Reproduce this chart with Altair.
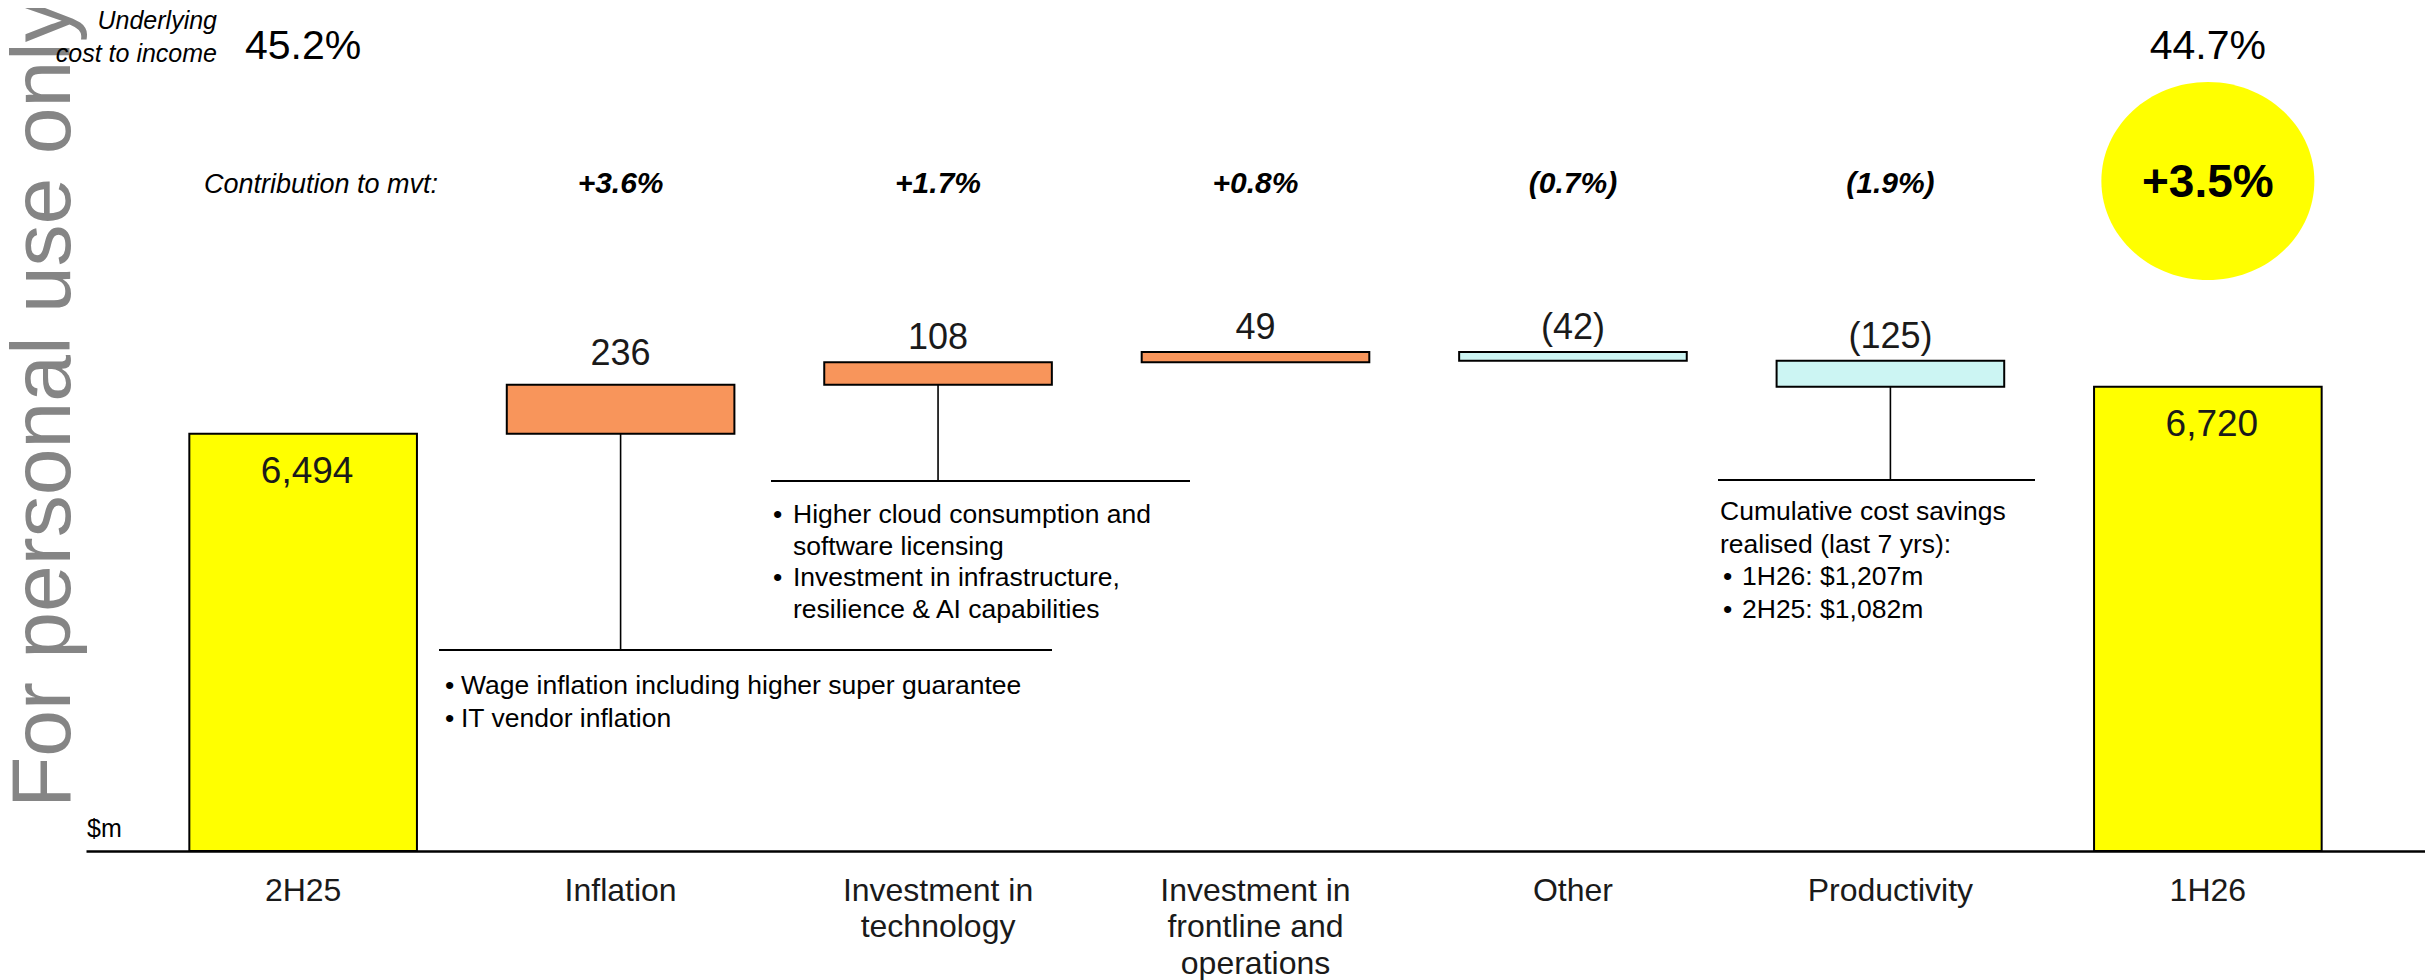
import altair as alt
import pandas as pd

# ---------------- data ----------------
categories = ["2H25", "Inflation", "Investment in|technology",
              "Investment in|frontline and|operations", "Other", "Productivity", "1H26"]
values = [6494, 236, 108, 49, -42, -125, 6720]
kinds = ["total", "up", "up", "up", "down", "down", "total"]
value_labels = ["6,494", "236", "108", "49", "(42)", "(125)", "6,720"]
contributions = ["", "+3.6%", "+1.7%", "+0.8%", "(0.7%)", "(1.9%)", ""]
cost_to_income = ["45.2%", "", "", "", "", "", "44.7%"]
total_change = "+3.5%"

kind_domain = ["total", "up", "down"]
kind_colors = ["#FFFF00", "#F8955B", "#CCF5F3"]

note_inflation = [("•", "Wage inflation including higher super guarantee"),
                  ("•", "IT vendor inflation")]
note_technology = [("•", "Higher cloud consumption and"),
                   ("", "software licensing"),
                   ("•", "Investment in infrastructure,"),
                   ("", "resilience & AI capabilities")]
note_productivity = [("", "Cumulative cost savings"),
                     ("", "realised (last 7 yrs):"),
                     ("•", "1H26: $1,207m"),
                     ("•", "2H25: $1,082m")]

# ---------------- waterfall table ----------------
rows = []
run = 0
for c, v, k, lab, con, cti in zip(categories, values, kinds, value_labels,
                                  contributions, cost_to_income):
    if k == "total":
        start, end = 0, v
        run = v
    else:
        start, end = run, run + v
        run = run + v
    rows.append(dict(cat=c, start=start, end=end, kind=k, label=lab,
                     top=max(start, end), bottom=min(start, end),
                     contrib=con, cti=cti))
df = pd.DataFrame(rows)

FONT = "Liberation Sans, Arial, Helvetica, sans-serif"
TXT = "#1a1a1a"

yscale = alt.Scale(domain=[4490, 8540], zero=False, nice=False, clamp=True)
xenc = alt.X("cat:N", sort=categories,
             scale=alt.Scale(domain=categories, paddingInner=0.283, paddingOuter=0.3255),
             axis=alt.Axis(title=None, labelExpr="split(datum.label, '|')", labelAngle=0,
                           labelFontSize=32, labelFont=FONT, labelColor=TXT,
                           labelPadding=24, labelLineHeight=36.5, labelLimit=500,
                           labelOverlap=False, ticks=False, domainColor="black",
                           domainWidth=2.5, grid=False))

base = alt.Chart(df)

bars = base.mark_bar(stroke="black", strokeWidth=2).encode(
    x=xenc,
    y=alt.Y("start:Q", scale=yscale, axis=None),
    y2="end:Q",
    color=alt.Color("kind:N", scale=alt.Scale(domain=kind_domain, range=kind_colors), legend=None),
)

total_labels = base.transform_filter("datum.kind == 'total'").mark_text(
    font=FONT, fontSize=37, color=TXT, baseline="alphabetic", dy=49, dx=4
).encode(x=xenc, y=alt.Y("end:Q", scale=yscale, axis=None), text="label:N")

delta_labels_a = base.transform_filter("datum.cat == 'Inflation'").mark_text(
    font=FONT, fontSize=36, color=TXT, baseline="alphabetic", dy=-20
).encode(x=xenc, y=alt.Y("top:Q", scale=yscale, axis=None), text="label:N")

delta_labels_b = base.transform_filter(
    "datum.kind != 'total' && datum.cat != 'Inflation'").mark_text(
    font=FONT, fontSize=36, color=TXT, baseline="alphabetic", dy=-13
).encode(x=xenc, y=alt.Y("top:Q", scale=yscale, axis=None), text="label:N")

cti_text = base.transform_filter("datum.cti != ''").mark_text(
    font=FONT, fontSize=41, color="black", baseline="alphabetic"
).encode(x=xenc, y=alt.value(51), text="cti:N")

contrib_text = base.transform_filter("datum.contrib != ''").mark_text(
    font=FONT, fontSize=30, fontWeight="bold", fontStyle="italic", color="black",
    baseline="alphabetic"
).encode(x=xenc, y=alt.value(185), text="contrib:N")

one = pd.DataFrame({"cat": ["1H26"], "txt": [total_change]})
ellipse = alt.Chart(one).mark_point(
    shape="M-1,0A1,0.93,0,1,0,1,0A1,0.93,0,1,0,-1,0Z",
    size=213 * 213, filled=True, fill="#FFFF00", opacity=1, strokeWidth=0
).encode(x=xenc, y=alt.value(173))
ellipse_text = alt.Chart(one).mark_text(
    font=FONT, fontSize=46, fontWeight="bold", color="black", baseline="alphabetic"
).encode(x=xenc, y=alt.value(189), text="txt:N")

blank = pd.DataFrame({"a": [0]})


def fixed_text(txt, x, y, size, align="left", baseline="alphabetic", style="normal",
               weight="normal", color=TXT, angle=0, line_height=None):
    kw = dict(font=FONT, fontSize=size, align=align, baseline=baseline,
              fontStyle=style, fontWeight=weight, color=color, text=txt)
    if angle:
        kw["angle"] = angle
    if line_height:
        kw["lineHeight"] = line_height
    return alt.Chart(blank).mark_text(**kw).encode(x=alt.value(x), y=alt.value(y))


layers = [bars, total_labels, delta_labels_a, delta_labels_b, cti_text, contrib_text,
          ellipse, ellipse_text]

# watermark and row headers
layers.append(fixed_text("For personal use only", -16, 800, 84, color="#858585", angle=270))
layers.append(fixed_text(["Underlying", "cost to income"], 131, 21, 25, align="right",
                         style="italic", color="black", line_height=33))
layers.append(fixed_text("Contribution to mvt:", 352, 185, 27, align="right",
                         style="italic", color="black"))
layers.append(fixed_text("$m", 1, 829, 25, color="black"))

# leader lines and notes: (category, notes, line_y, line_x1, line_x2, plain_x, bullet_x, bullet_text_x, first_y, step)
leaders = [
    ("Inflation", note_inflation, 642, 353, 966, 375, 359, 375, 678, 33),
    ("Investment in|technology", note_technology, 473, 685, 1104, 707, 687, 707, 507, 31.7),
    ("Productivity", note_productivity, 472, 1632, 1949, 1634, 1637, 1656, 504, 32.5),
]
for cat, notes, ly, lx1, lx2, px, bx, btx, fy, step in leaders:
    layers.append(
        base.transform_filter(alt.datum.cat == cat).mark_rule(color="black", strokeWidth=1.6)
        .encode(x=xenc, y=alt.Y("bottom:Q", scale=yscale, axis=None), y2=alt.value(ly))
    )
    layers.append(
        alt.Chart(blank).mark_rule(color="black", strokeWidth=2.2)
        .encode(x=alt.value(lx1), x2=alt.value(lx2), y=alt.value(ly))
    )
    for i, (bullet, txt) in enumerate(notes):
        yy = fy + i * step
        if bullet:
            layers.append(fixed_text(bullet, bx, yy, 26.5, baseline="middle", color="black"))
            layers.append(fixed_text(txt, btx, yy, 26.5, baseline="middle", color="black"))
        else:
            layers.append(fixed_text(txt, px, yy, 26.5, baseline="middle", color="black"))

chart = alt.layer(*layers).properties(
    width=2339, height=843,
    padding={"left": 78, "top": 0, "right": 0, "bottom": 129},
    autosize=alt.AutoSizeParams(type="none"),
    background="white",
).configure_view(strokeWidth=0)

chart.save("out.html", embed_options={"renderer": "svg", "actions": False})
